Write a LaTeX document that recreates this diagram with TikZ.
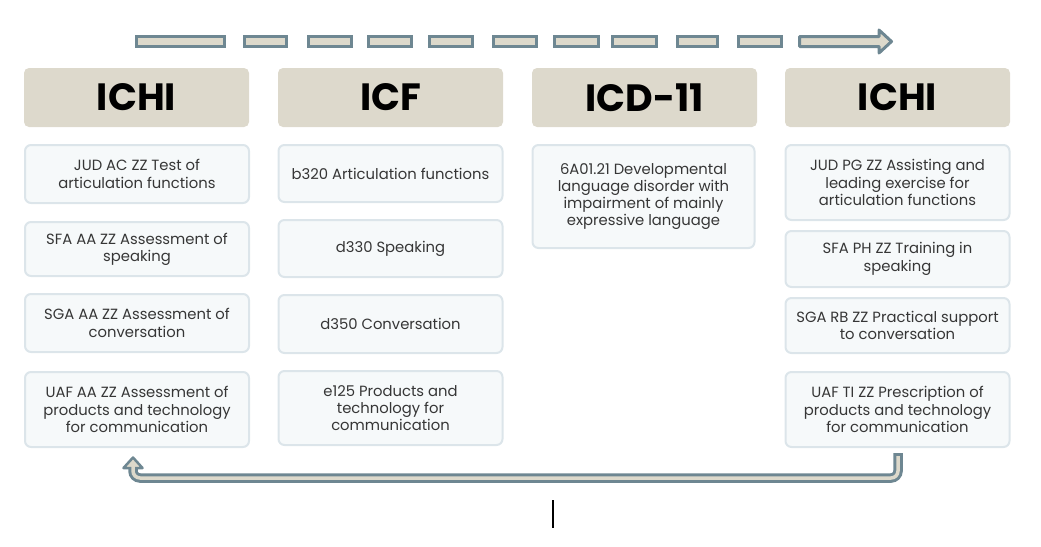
\documentclass[tikz,border=0pt]{standalone}
\usepackage{fontspec}
\setmainfont{Poppins}
\definecolor{slate}{HTML}{6E8792}
\definecolor{beige}{HTML}{DDD9CB}
\definecolor{hdrfill}{HTML}{DDD9CC}
\definecolor{boxfill}{HTML}{F6F9FA}
\definecolor{boxline}{HTML}{DCE5EA}
\definecolor{txt}{HTML}{363636}
\begin{document}
\begin{tikzpicture}[x=1pt,y=-1pt,
  hdr/.style={fill=hdrfill, rounded corners=5pt, draw=none, minimum width=225pt,
    minimum height=59pt, font=\fontsize{38}{42}\selectfont\bfseries, text=black, inner sep=0pt},
  item/.style={fill=boxfill, draw=boxline, line width=2pt, rounded corners=6pt,
    minimum width=224pt, inner sep=0pt, align=center, text=txt,
    font=\fontsize{14.8}{17.3}\selectfont},
  dashrect/.style={fill=beige, draw=slate, line width=3pt},
  arrowout/.style={draw=slate, line width=9.5pt, rounded corners=7pt},
  arrowin/.style={draw=beige, line width=3.5pt, rounded corners=7pt}]
\useasboundingbox (0,0) rectangle (1041,546);

% top dashed arrow
\foreach \a/\b in {135/226,243/288,307/353,367/413,428/474,492/538,553/600,611/658,676/719,737/783}{
  \draw[dashrect] (\a+1.5,36.5) rectangle (\b-1.5,46.5);
}
\draw[dashrect, line join=round] (799.5,36.5) -- (879,36.5) -- (879,30) -- (891.5,41.5)
  -- (879,53) -- (879,46.5) -- (799.5,46.5) -- cycle;

% headers
\node[hdr] (h1) at (136.5,97.5) {ICHI};
\node[hdr] (h2) at (390.5,97.5) {ICF};
\node[hdr] (h3) at (644.5,97.5) {ICD-11};
\node[hdr] (h4) at (897.5,97.5) {ICHI};

% column 1
\node[item, minimum height=58pt] (a1) at (137,174) {JUD AC ZZ Test of\\articulation functions};
\node[item, minimum height=54pt] (a2) at (137,249) {SFA AA ZZ Assessment of\\speaking};
\node[item, minimum height=58pt] (a3) at (137,323) {SGA AA ZZ Assessment of\\conversation};
\node[item, minimum height=75pt] (a4) at (137,409.5) {UAF AA ZZ Assessment of\\products and technology\\for communication};

% column 2
\node[item, minimum height=57pt] (b1) at (390.5,173.5) {b320 Articulation functions};
\node[item, minimum height=57pt] (b2) at (390.5,248.5) {d330 Speaking};
\node[item, minimum height=58pt] (b3) at (390.5,324) {d350 Conversation};
\node[item, minimum height=74pt] (b4) at (390.5,408) {e125 Products and\\technology for\\communication};

% column 3
\node[item, minimum height=103pt, minimum width=222pt] (c1) at (643.5,196.5) {6A01.21 Developmental\\language disorder with\\impairment of mainly\\expressive language};

% column 4
\node[item, minimum height=75pt] (d1) at (897.5,182.5) {JUD PG ZZ Assisting and\\leading exercise for\\articulation functions};
\node[item, minimum height=56pt] (d2) at (897.5,259) {SFA PH ZZ Training in\\speaking};
\node[item, minimum height=55pt] (d3) at (897.5,325.5) {SGA RB ZZ Practical support\\to conversation};
\node[item, minimum height=75pt] (d4) at (897.5,409.5) {UAF TI ZZ Prescription of\\products and technology\\for communication};

% bottom return arrow
\draw[arrowout] (898,453) -- (898,478) -- (133,478) -- (133,467);
\draw[dashrect, line width=2.5pt, line join=round] (123.5,468) -- (133,457.5) -- (142.5,468) -- cycle;
\draw[arrowin] (898,456) -- (898,478) -- (133,478) -- (133,464);

% text cursor
\draw[black, line width=2pt] (553,500) -- (553,528);
\end{tikzpicture}
\end{document}
